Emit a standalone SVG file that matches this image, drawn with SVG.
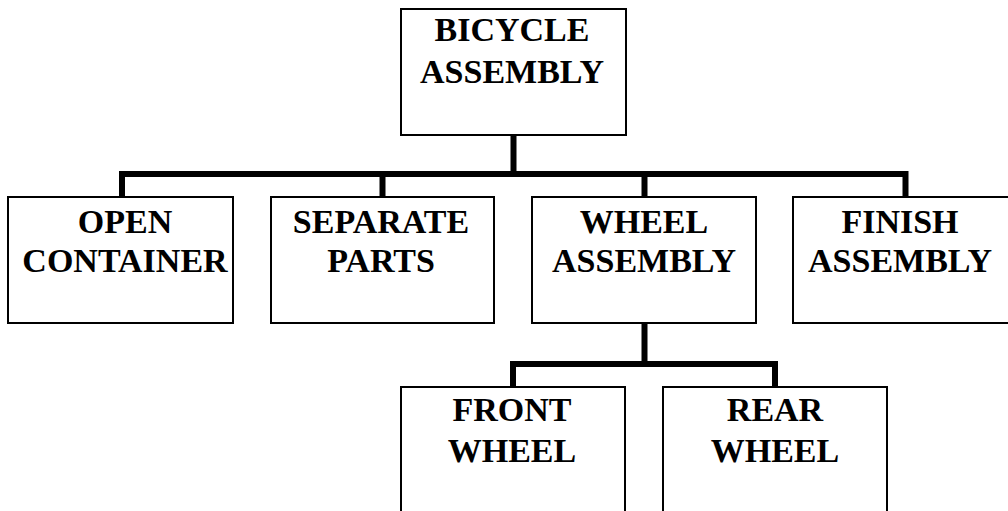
<svg xmlns="http://www.w3.org/2000/svg" width="1008" height="511" viewBox="0 0 1008 511">
<style>
.box{fill:#fff;stroke:#000;stroke-width:2}
.t{font-family:"Liberation Serif","Times New Roman",serif;font-weight:bold;font-size:34px;text-anchor:middle;fill:#000}
.c{fill:none;stroke:#000;stroke-width:6;stroke-linecap:square;stroke-linejoin:miter}
</style>
<rect width="1008" height="511" fill="#fff"/>
<g id="connectors">
<path class="c" d="M513.5,136 V174 M122,195 V174 H905.5 V195 M382.5,174 V195 M644.5,174 V195"/>
<path class="c" d="M644.5,325 V364 M513,385 V364 H775 V385"/>
</g>
<g id="bicycle-assembly">
<rect class="box" x="401" y="9" width="225" height="126"/>
<text class="t" x="512" y="41">BICYCLE</text>
<text class="t" x="512" y="83">ASSEMBLY</text>
</g>
<g id="open-container">
<rect class="box" x="8" y="197" width="225" height="126"/>
<text class="t" x="125" y="233">OPEN</text>
<text class="t" x="125" y="272">CONTAINER</text>
</g>
<g id="separate-parts">
<rect class="box" x="271" y="197" width="223" height="126"/>
<text class="t" x="381" y="233">SEPARATE</text>
<text class="t" x="381" y="272">PARTS</text>
</g>
<g id="wheel-assembly">
<rect class="box" x="532" y="197" width="224" height="126"/>
<text class="t" x="644" y="233">WHEEL</text>
<text class="t" x="644" y="272">ASSEMBLY</text>
</g>
<g id="finish-assembly">
<rect class="box" x="793" y="197" width="225" height="126"/>
<text class="t" x="900" y="233">FINISH</text>
<text class="t" x="900" y="272">ASSEMBLY</text>
</g>
<g id="front-wheel">
<rect class="box" x="401" y="387" width="224" height="140"/>
<text class="t" x="512" y="421">FRONT</text>
<text class="t" x="512" y="462">WHEEL</text>
</g>
<g id="rear-wheel">
<rect class="box" x="663" y="387" width="224" height="140"/>
<text class="t" x="775" y="421">REAR</text>
<text class="t" x="775" y="462">WHEEL</text>
</g>
</svg>
